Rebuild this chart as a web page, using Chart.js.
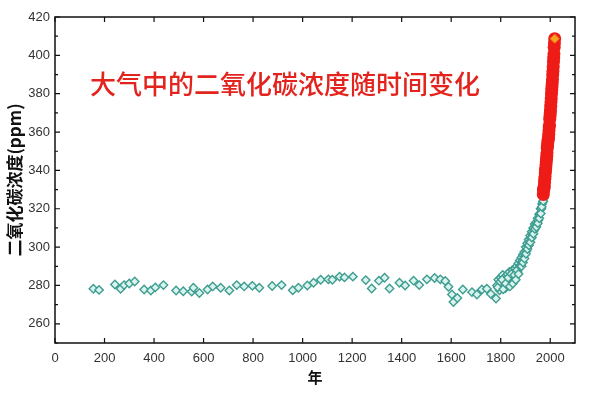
<!DOCTYPE html>
<html>
<head>
<meta charset="utf-8">
<script src="https://cdn.jsdelivr.net/npm/chart.js@4.4.1/dist/chart.umd.min.js"></script>
<style>
  html, body { margin: 0; padding: 0; background: #fff; }
  #wrap { width: 600px; height: 396px; }
</style>
</head>
<body>
<div id="wrap"><canvas id="chartCanvas" width="600" height="396"></canvas></div>
<script>
// ice core record (year, ppm)
const iceYears = [155, 178, 242, 265, 279, 300, 322, 360, 387, 405, 438, 489, 518, 552, 559, 583, 616, 637, 669, 704,
  734, 764, 797, 825, 877, 915, 960, 983, 1019, 1044, 1073, 1104, 1120, 1149, 1169, 1203, 1255, 1279, 1308, 1331,
  1351, 1391, 1414, 1448, 1471, 1502, 1533, 1556, 1576, 1589, 1603, 1609, 1625, 1647, 1684, 1704, 1724, 1744, 1760, 1781,
  1785, 1790, 1795, 1800, 1803, 1808, 1812, 1815, 1818, 1822, 1825, 1828, 1832, 1835, 1838, 1841, 1844, 1847, 1850, 1853,
  1856, 1859, 1862, 1865, 1868, 1871, 1874, 1877, 1880, 1883, 1886, 1889, 1892, 1895, 1898, 1901, 1904, 1907, 1910, 1913,
  1916, 1919, 1922, 1925, 1928, 1931, 1934, 1937, 1940, 1943, 1946, 1949, 1952, 1955, 1958, 1961, 1964, 1967, 1970, 1974,
  1788, 1798, 1806, 1810, 1820, 1830, 1837, 1843, 1849, 1855, 1861, 1866, 1872, 1878, 1884, 1890, 1896, 1902, 1908, 1914,
  1920, 1926, 1932, 1938, 1944, 1950, 1956, 1962, 1966, 1972];
const iceCO2 = [278.3, 277.7, 280.5, 278.3, 280.2, 281, 282.1, 277.9, 277.4, 279, 280.2, 277.4, 277, 276.8, 278.8, 276.1, 277.9, 279.5, 278.8, 277.4,
  280.2, 279.5, 279.8, 278.8, 279.7, 280.2, 277.5, 278.8, 280, 281.4, 283, 283.2, 283, 284.6, 284.2, 284.6, 282.8, 278.4, 282.5, 284,
  278.4, 281.4, 280, 282.5, 280.2, 283.2, 283.9, 283.2, 282.3, 279.3, 275.3, 271.4, 273.5, 277.9, 276.5, 275.3, 277.9, 278.3, 275.6, 273.2,
  280, 283, 277.5, 284, 280, 285.5, 280.5, 284, 278.5, 285, 281.5, 286, 280, 287, 282.5, 285, 281, 288, 284, 287,
  282.5, 289, 286, 290, 287, 291.5, 289, 293, 290.5, 294.5, 292.5, 296, 294, 297.5, 296, 300, 298, 302, 300.5, 304,
  302.5, 306, 304.5, 308, 306.5, 310, 308.5, 312, 310.5, 313, 312, 315, 314, 317, 317.5, 320, 320, 322.5, 323.5, 325.5,
  279, 282, 283, 278, 281, 284, 279.5, 286, 281, 285.5, 283, 288, 286, 290, 290, 292, 294, 296.5, 299, 301,
  302.5, 305, 307, 309.5, 310.5, 312.5, 315, 317.5, 321, 324];

// direct measurements (year, ppm)
const mloYears = [1972, 1973, 1974, 1975, 1976, 1977, 1978, 1979, 1980, 1981, 1982, 1983, 1984, 1985, 1986, 1987,
  1988, 1989, 1990, 1991, 1992, 1993, 1994, 1995, 1996, 1997, 1998, 1999, 2000, 2001, 2002, 2003,
  2004, 2005, 2006, 2007, 2008, 2009, 2010, 2011, 2012, 2013, 2014, 2015, 2016, 2017, 2018];
const mloCO2 = [327.5, 329.7, 330.2, 331.1, 332.0, 333.8, 335.4, 336.8, 338.7, 340.1, 341.4, 343.0, 344.6, 346.0, 347.4, 349.2,
  351.6, 353.1, 354.4, 355.6, 356.4, 357.1, 358.8, 360.8, 362.6, 363.7, 366.7, 368.4, 369.7, 371.3, 373.5, 375.8,
  377.5, 379.8, 381.9, 383.8, 385.6, 387.4, 389.9, 391.7, 393.9, 396.5, 398.6, 400.8, 404.2, 406.5, 408.7];

const xTicks = [0, 200, 400, 600, 800, 1000, 1200, 1400, 1600, 1800, 2000];
const yTicks = [260, 280, 300, 320, 340, 360, 380, 400, 420];

const chartTitle = '大气中的二氧化碳浓度随时间变化';
const yTitle = '二氧化碳浓度(ppm)';
const xTitle = '年';

const icePoints = iceYears.map((yr, i) => ({ x: yr, y: iceCO2[i] }));
const mloPoints = mloYears.map((yr, i) => ({ x: yr, y: mloCO2[i] }));
const lastPoint = [mloPoints[mloPoints.length - 1]];

// frame, inward ticks and the red title
const framePlugin = {
  id: 'frame',
  afterDraw(chart) {
    const ctx = chart.ctx;
    const a = chart.chartArea;
    const xs = chart.scales.x, ys = chart.scales.y;
    ctx.save();
    ctx.strokeStyle = '#111';
    ctx.lineWidth = 1.5;
    ctx.strokeRect(a.left, a.top, a.right - a.left, a.bottom - a.top);
    ctx.lineWidth = 1.2;
    ctx.beginPath();
    xTicks.forEach(v => {
      const px = xs.getPixelForValue(v);
      ctx.moveTo(px, a.bottom); ctx.lineTo(px, a.bottom - 5);
      ctx.moveTo(px, a.top); ctx.lineTo(px, a.top + 5);
    });
    for (let v = 250; v <= 420; v += 10) {
      const py = ys.getPixelForValue(v);
      const len = (v % 20 === 0) ? 5 : 3;
      ctx.moveTo(a.left, py); ctx.lineTo(a.left + len, py);
      ctx.moveTo(a.right, py); ctx.lineTo(a.right - len, py);
    }
    ctx.stroke();

    ctx.fillStyle = '#e3231d';
    ctx.font = '500 26px "Noto Sans CJK SC"';
    ctx.textBaseline = 'middle';
    ctx.textAlign = 'left';
    ctx.fillText(chartTitle, 90, 84);
    ctx.restore();
  }
};

const tickFont = { family: '"Liberation Sans", Arial', size: 13 };

const chartCanvas = document.getElementById('chartCanvas');
const myChart = new Chart(chartCanvas, {
  type: 'scatter',
  data: {
    datasets: [
      {
        label: 'end',
        data: lastPoint,
        pointStyle: 'rectRot',
        pointRadius: 4.5,
        backgroundColor: '#f7a21b',
        borderColor: '#e8801a',
        borderWidth: 1,
        order: 0
      },
      {
        label: 'measured',
        data: mloPoints,
        pointStyle: 'circle',
        pointRadius: 6.5,
        backgroundColor: '#ee1b17',
        borderWidth: 0,
        showLine: true,
        borderColor: '#ee1b17',
        order: 1
      },
      {
        label: 'ice core',
        data: icePoints,
        pointStyle: 'rectRot',
        pointRadius: 4.2,
        backgroundColor: '#d9f3ef',
        borderColor: '#3f9d90',
        borderWidth: 1.4,
        order: 2
      }
    ]
  },
  options: {
    responsive: false,
    animation: false,
    layout: { padding: { left: 0, right: 25, top: 17, bottom: 0 } },
    plugins: {
      legend: { display: false },
      tooltip: { enabled: false }
    },
    scales: {
      x: {
        type: 'linear',
        min: 0,
        max: 2100,
        afterBuildTicks: s => { s.ticks = xTicks.map(v => ({ value: v })); },
        afterFit: s => { s.height = 53; },
        grid: { display: false, drawTicks: false },
        border: { display: false },
        ticks: { color: '#333', padding: 8, font: tickFont, callback: v => String(v) },
        title: {
          display: true,
          text: xTitle,
          color: '#111',
          padding: { top: 0, bottom: 10 },
          font: { family: '"Noto Sans CJK SC"', size: 15, weight: 'bold' }
        }
      },
      y: {
        type: 'linear',
        min: 250,
        max: 420,
        afterBuildTicks: s => { s.ticks = yTicks.map(v => ({ value: v })); },
        afterFit: s => { s.width = 55; },
        grid: { display: false, drawTicks: false },
        border: { display: false },
        ticks: { color: '#333', padding: 5, font: tickFont, callback: v => String(v) },
        title: {
          display: true,
          text: yTitle,
          color: '#111',
          padding: { top: 4, bottom: 0 },
          font: { family: '"Noto Sans CJK SC"', size: 17, weight: 'bold' }
        }
      }
    }
  },
  plugins: [framePlugin]
});
</script>
</body>
</html>
